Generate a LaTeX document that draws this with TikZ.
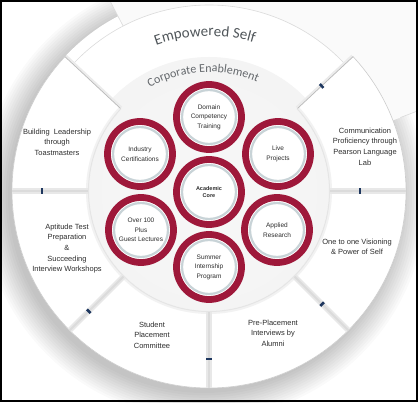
\documentclass[tikz,border=0pt]{standalone}
\usepackage{fontspec}
\setmainfont{Liberation Sans}
\newfontfamily\carlito{Carlito}
\usetikzlibrary{decorations.text}
\definecolor{ringred}{RGB}{158,24,58}
\definecolor{ringsilver}{RGB}{200,211,215}
\definecolor{txt}{RGB}{45,45,45}
\definecolor{titlegray}{RGB}{80,86,90}
\definecolor{cegray}{RGB}{100,104,108}
\definecolor{tickblue}{RGB}{30,55,95}
\pgfdeclareradialshading{greydisc}{\pgfpoint{0bp}{0bp}}{color(0bp)=(gray!6); color(36bp)=(gray!10); color(45bp)=(gray!17); color(50bp)=(gray!8)}
\begin{document}
\begin{tikzpicture}[x=1pt,y=1pt,
  petaltext/.style={font=\fontsize{7.5}{10.6}\selectfont, text=txt, align=center, inner sep=0pt},
  ring/.style={circle, draw=ringred, line width=6.8pt, fill=white, minimum size=65pt, inner sep=0pt,
    align=center, text=txt, font=\fontsize{6.5}{9.5}\selectfont,
    path picture={\draw[ringsilver, line width=2.2pt] (path picture bounding box.center) circle[radius=27pt];}},
  divbar/.style={line width=5.5pt, draw=gray!18},
  divcore/.style={line width=2pt, draw=gray!28},
  tickmark/.style={line width=2.6pt, draw=tickblue},
  edgeline/.style={draw=gray!55, line width=0.7pt},
  faint/.style={draw=gray!28, line width=0.6pt}
]
\useasboundingbox (-209,-211) rectangle (209,191);
\clip (-209,-211) rectangle (209,191);
\fill[white] (-209,-211) rectangle (209,191);
% soft shadow of the outer disc
\foreach \k in {0,...,11} \fill[black, opacity=0.02] (-5,-6) circle[radius=196+2.4*\k];
% outer disc
\fill[white] (0,0) circle[radius=197];
% faint background sector at the top
\fill[gray!4] (21:186) -- (21:330) arc[start angle=21, end angle=117.5, radius=330] -- (117.5:186) arc[start angle=117.5, end angle=21, radius=186] -- cycle;
\draw[faint] (117.5:186) -- (117.5:330);
\draw[faint] (21:205) -- (21:330);
\draw[faint] (43:186) arc[start angle=43, end angle=137, radius=186];
% inner grey disc
\shade[shading=greydisc] (0,0) circle[radius=134];
% shadows of the raised petals on the top segment
\draw[gray!16, line width=5pt] (137:121) -- (137:197);
\draw[gray!16, line width=5pt] (43:121) -- (43:197);
% petals
\fill[white] (137:197) arc[start angle=137, end angle=403, radius=197] -- (43:120) arc[start angle=43, end angle=-223, radius=120] -- cycle;
\draw[gray!10, line width=3pt] (137:121.5) arc[start angle=137, end angle=403, radius=121.5];
\draw[gray!20, line width=1pt] (137:120.5) arc[start angle=137, end angle=403, radius=120.5];
\draw[gray!40, line width=0.6pt] (137:197) arc[start angle=137, end angle=403, radius=197];
% dividers
\foreach \ang in {180,225,270,315,360} {
  \draw[divbar, rotate=\ang] (121,0) -- (197,0);
  \draw[divcore, rotate=\ang] (121,0) -- (197,0);
}
\draw[edgeline] (137:121) -- (137:197);
\draw[edgeline] (43:121) -- (43:197);
\foreach \ang/\rr in {180/167, 225/170, 270/168, 315/160, 360/151, 43/154}
  \draw[tickmark, rotate=\ang] (\rr,-2.6) -- (\rr,2.6);
% curved titles
\path[decorate, decoration={text along path, text align=center,
  text={|\carlito\fontsize{15}{15}\selectfont\color{titlegray}|Empowered Self}}]
  (121.5:155) arc[start angle=121.5, end angle=61.5, radius=155];
\path[decorate, decoration={text along path, text align=center,
  text={|\carlito\fontsize{12}{12}\selectfont\color{cegray}|Corporate Enablement}}]
  (138:119) arc[start angle=138, end angle=48, radius=119];
% petal texts
\node[petaltext] (lead) at (-152,49) {Building\ \ Leadership\\through\\Toastmasters};
\node[petaltext] (apt) at (-142,-57.5) {Aptitude Test\\Preparation\\\&\\Succeeding\\Interview Workshops};
\node[petaltext] (spc) at (-57,-144) {Student\\Placement\\Committee};
\node[petaltext] (ppi) at (64,-142) {Pre-Placement\\Interviews by\\Alumni};
\node[petaltext] (vis) at (148,-56) {One to one Visioning\\\& Power of Self};
\node[petaltext] (comm) at (156,44.5) {Communication\\Proficiency through\\Pearson Language\\Lab};
% circles
\node[ring, font=\fontsize{5.5}{7.5}\selectfont\bfseries] (core) at (0,-1) {Academic\\Core};
\node[ring] (dom) at (0,74) {Domain\\Competency\\Training};
\node[ring] (sum) at (0,-76) {Summer\\Internship\\Program};
\node[ring] (ind) at (-69,37) {Industry\\Certifications};
\node[ring] (live) at (69,37) {Live\\Projects};
\node[ring] (guest) at (-68,-39) {Over 100\\Plus\\Guest Lectures};
\node[ring] (app) at (68,-39) {Applied\\Research};
% frame
\draw[black, line width=1.6pt] (-208.2,-210.2) rectangle (208.2,190.2);
\end{tikzpicture}
\end{document}
